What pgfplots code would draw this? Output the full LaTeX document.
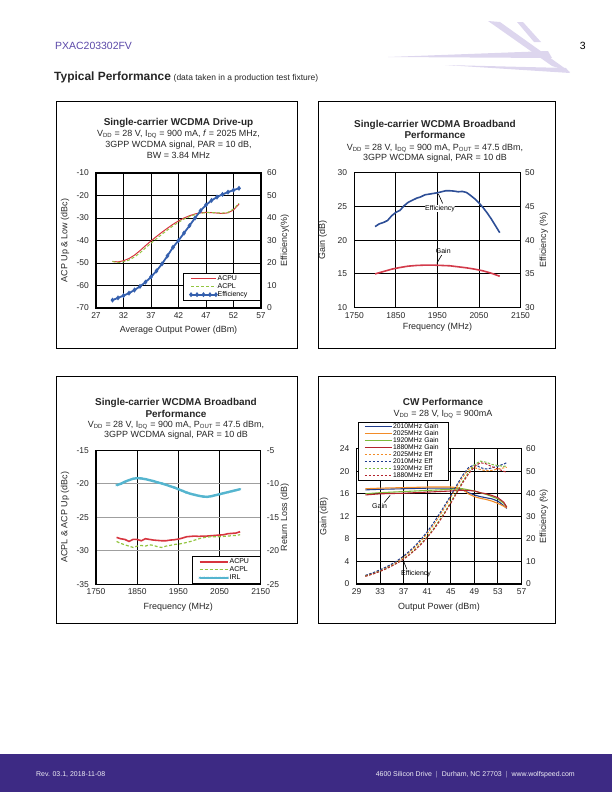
\documentclass[border=0pt]{standalone}
\usepackage{pgfplots}
\pgfplotsset{compat=1.18}
\usepackage{fontspec}
\setmainfont{Liberation Sans}

\definecolor{wspurple}{HTML}{5A48A8}
\definecolor{wsband}{HTML}{3D2A84}
\definecolor{logo}{HTML}{DDD6EE}
\definecolor{cred}{HTML}{D7353F}
\definecolor{cgreen}{HTML}{93C540}
\definecolor{cblue}{HTML}{3560AE}
\definecolor{gnavy}{HTML}{2D4E96}
\definecolor{gred}{HTML}{D33B4B}
\definecolor{irl}{HTML}{55B5CF}
\definecolor{cworange}{HTML}{F28C28}
\definecolor{cwgreen}{HTML}{7DBA3C}
\definecolor{cwred}{HTML}{B3232D}
\definecolor{cwnavy}{HTML}{1F3C8C}

\pgfplotsset{
  panel/.style={
    scale only axis, anchor=south west,
    axis line style={line width=1.2pt, black},
    major tick length=0pt,
    tick style={draw=none},
    ticklabel style={font=\fontsize{8.5}{10}\selectfont, text=black!85, inner sep=0pt},
    label style={font=\fontsize{9}{10}\selectfont, text=black!85},
    /pgf/number format/assume math mode=true,
    /pgf/number format/1000 sep={},
    grid style={black, line width=0.9pt},
  },
  leftax/.style={panel,
    xticklabel style={anchor=center, yshift=-7.5bp},
    yticklabel style={anchor=east, xshift=-7bp}},
  rightax/.style={panel, axis y line*=right, axis x line=none,
    yticklabel style={anchor=west, xshift=#1}},
  rightax/.default=6bp,
  leg/.style={legend cell align=left,
    legend style={font=\fontsize{7}{7}\selectfont, draw=black, line width=0.8pt,
      fill=white, inner ysep=1.5pt, nodes={inner sep=0.8pt, align=left}},
    legend image code/.code={\draw[##1]
      plot coordinates {(0pt,0pt) (6pt,0pt) (12.5pt,0pt) (19pt,0pt) (25pt,0pt)};}},
}

\newcommand{\titleline}[3]{\node[anchor=base, font=\fontsize{10}{12}\selectfont\bfseries, text=black!85] at (#1bp,-#2bp) {#3};}
\newcommand{\subline}[3]{\node[anchor=base, font=\fontsize{9}{11}\selectfont, text=black!85] at (#1bp,-#2bp) {#3};}

\begin{document}
\begin{tikzpicture}
\useasboundingbox (0,0) rectangle (612bp,-792bp);

% header
\fill[logo] (388bp,-57bp) -- (548bp,-51bp) -- (552bp,-58bp) -- cycle;
\fill[logo] (488bp,-21bp) -- (500bp,-22bp) -- (570bp,-72bp) -- (552bp,-66bp) -- cycle;
\fill[logo] (445bp,-65bp) -- (566bp,-68bp) -- (570bp,-73bp) -- cycle;
\fill[logo] (517bp,-22bp) -- (523bp,-22bp) -- (541bp,-42bp) -- (534bp,-42bp) -- cycle;
\node[anchor=base west, text=wspurple, font=\fontsize{10.5}{12}\selectfont, inner sep=0pt] at (55bp,-49bp) {PXAC203302FV};
\node[anchor=base east, font=\fontsize{10.5}{12}\selectfont, inner sep=0pt] at (586bp,-49bp) {3};
\node[anchor=base west, inner sep=0pt, text=black!85] at (54bp,-80bp) {{\fontsize{12}{14}\selectfont\bfseries Typical Performance} {\fontsize{8.5}{10}\selectfont (data taken in a production test fixture)}};

% panel frames
\draw[line width=0.6pt] (56bp,-101bp) rectangle (297bp,-348bp);
\draw[line width=0.6pt] (318bp,-101bp) rectangle (555bp,-348bp);
\draw[line width=0.6pt] (56bp,-376bp) rectangle (297bp,-623bp);
\draw[line width=0.6pt] (318bp,-376bp) rectangle (555bp,-623bp);

% ---------- panel 1 ----------
\titleline{178.5}{125.3}{Single-carrier WCDMA Drive-up}
\subline{178.5}{136.5}{V\textsubscript{DD} = 28 V, I\textsubscript{DQ} = 900 mA, \textit{f} = 2025 MHz,}
\subline{178.5}{147.7}{3GPP WCDMA signal, PAR = 10 dB,}
\subline{178.5}{158.9}{BW = 3.84 MHz}

\begin{axis}[leftax, at={(96bp,-308bp)}, width=165bp, height=135bp,
  xmin=27, xmax=57, ymin=-70, ymax=-10,
  xtick={27,32,...,57}, ytick={-70,-60,...,-10},
  xmajorgrids, ymajorgrids,
  xlabel={Average Output Power (dBm)}, ylabel={ACP Up \& Low (dBc)},
  xlabel style={at={(axis description cs:0.5,-0.163)}, anchor=center},
  ylabel style={at={(axis description cs:-0.188,0.5)}, anchor=center}]
\addplot[cred, line width=1pt] coordinates {
(30,-49.3)(31,-49.5)(32,-49.0)(33,-48.0)(34,-46.5)(35,-44.5)(36,-42.3)(37,-40.2)
(38,-38.2)(39,-36.3)(40,-34.5)(41,-32.8)(42,-31.3)(43,-30.0)(44,-29.0)(45,-28.2)
(46,-27.7)(47,-27.5)(48,-27.6)(49,-27.8)(50,-28.0)(51,-27.7)(52,-26.4)(53,-23.8)};
\addplot[cgreen, line width=1pt, dash pattern=on 3pt off 2pt] coordinates {
(30,-49.3)(31,-49.8)(32,-49.5)(33,-48.7)(34,-47.3)(35,-45.5)(36,-43.3)(37,-41.2)
(38,-39.2)(39,-37.2)(40,-35.3)(41,-33.5)(42,-31.9)(43,-30.5)(44,-29.4)(45,-28.5)
(46,-27.9)(47,-27.6)(48,-27.6)(49,-27.7)(50,-27.8)(51,-27.5)(52,-26.0)(53,-23.5)};
\end{axis}
\begin{axis}[rightax, leg, at={(96bp,-308bp)}, width=165bp, height=135bp,
  xmin=27, xmax=57, ymin=0, ymax=60, ytick={0,10,...,60},
  ylabel={Efficiency(\%)},
  ylabel style={at={(axis description cs:1.145,0.5)}, anchor=center},
  legend style={at={(0.998,0.261)}, anchor=north east, inner xsep=7pt,
    nodes={text width=35pt}}]
\addlegendimage{cred, line width=1pt}
\addlegendentry{ACPU}
\addlegendimage{cgreen, line width=1pt, dash pattern=on 3pt off 2pt}
\addlegendentry{ACPL}
\addplot[cblue, line width=1.8pt, mark=diamond*, mark size=1.1pt] coordinates {
(30,3.5)(31,4.5)(32,5.5)(33,6.6)(34,8.0)(35,9.6)(36,11.5)(37,13.8)(38,16.5)
(39,19.6)(40,23.2)(41,27.0)(42,30.0)(43,33.3)(44,36.6)(45,40.0)(46,43.2)
(47,45.8)(48,47.8)(49,49.3)(50,50.5)(51,51.5)(52,52.4)(53,53.2)};
\addlegendentry{Efficiency}
\end{axis}

% ---------- panel 2 ----------
\titleline{435}{127.5}{Single-carrier WCDMA Broadband}
\titleline{435}{138.8}{Performance}
\subline{435}{150}{V\textsubscript{DD} = 28 V, I\textsubscript{DQ} = 900 mA, P\textsubscript{OUT} = 47.5 dBm,}
\subline{435}{160.8}{3GPP WCDMA signal, PAR = 10 dB}

\begin{axis}[leftax, at={(354.3bp,-307.7bp)}, width=166.2bp, height=135.2bp,
  xmin=1750, xmax=2150, ymin=10, ymax=30,
  xtick={1750,1850,...,2150}, ytick={10,15,...,30},
  xmajorgrids, ymajorgrids,
  xlabel={Frequency (MHz)}, ylabel={Gain (dB)},
  xlabel style={at={(axis description cs:0.5,-0.145)}, anchor=center},
  ylabel style={at={(axis description cs:-0.19,0.5)}, anchor=center}]
\addplot[gred, line width=1.6pt] coordinates {
(1800,15.0)(1820,15.35)(1840,15.7)(1860,15.95)(1880,16.15)(1900,16.25)(1920,16.3)
(1940,16.3)(1960,16.25)(1980,16.2)(2000,16.05)(2020,15.9)(2040,15.7)(2060,15.45)
(2080,15.1)(2100,14.65)};
\end{axis}
\begin{axis}[rightax=4.5bp, at={(354.3bp,-307.7bp)}, width=166.2bp, height=135.2bp,
  xmin=1750, xmax=2150, ymin=30, ymax=50, ytick={30,35,...,50},
  ylabel={Efficiency (\%)},
  ylabel style={at={(axis description cs:1.14,0.5)}, anchor=center}]
\addplot[gnavy, line width=1.6pt] coordinates {
(1800,42.0)(1810,42.4)(1820,42.6)(1830,42.9)(1840,43.6)(1850,44.1)(1860,44.4)
(1870,45.1)(1880,45.6)(1890,45.9)(1900,46.2)(1910,46.4)(1920,46.7)(1930,46.8)
(1940,46.9)(1950,47.0)(1960,47.15)(1970,47.3)(1980,47.3)(1990,47.25)(2000,47.15)
(2010,47.2)(2020,47.05)(2030,46.6)(2040,46.1)(2050,45.5)(2060,44.8)(2070,44.0)
(2080,43.1)(2090,42.1)(2100,41.1)};
\end{axis}
\node[font=\fontsize{7}{8}\selectfont, fill=white, inner sep=0.5pt] at (440bp,-208.3bp) {Efficiency};
\draw[line width=0.6pt] (442.7bp,-203.5bp) -- (438.4bp,-194bp);
\node[font=\fontsize{7}{8}\selectfont, inner sep=0.5pt] at (443.3bp,-250.7bp) {Gain};
\draw[line width=0.6pt] (441.7bp,-255bp) -- (436.8bp,-263.3bp);

% ---------- panel 3 ----------
\titleline{176}{405.6}{Single-carrier WCDMA Broadband}
\titleline{176}{417}{Performance}
\subline{176}{427.3}{V\textsubscript{DD} = 28 V, I\textsubscript{DQ} = 900 mA, P\textsubscript{OUT} = 47.5 dBm,}
\subline{176}{437.6}{3GPP WCDMA signal, PAR = 10 dB}

\begin{axis}[leftax, at={(96bp,-584.3bp)}, width=164.7bp, height=134bp,
  xmin=1750, xmax=2150, ymin=-35, ymax=-15,
  xtick={1750,1850,...,2150}, ytick={-35,-30,...,-15},
  xmajorgrids, ymajorgrids,
  x grid style={black, line width=0.9pt},
  y grid style={gray!75, line width=0.8pt},
  xlabel={Frequency (MHz)}, ylabel={ACPL \& ACP Up (dBc)},
  xlabel style={at={(axis description cs:0.5,-0.172)}, anchor=center},
  ylabel style={at={(axis description cs:-0.188,0.5)}, anchor=center}]
\addplot[cred, line width=1.6pt] coordinates {
(1800,-28.0)(1810,-28.2)(1820,-28.3)(1830,-28.6)(1840,-28.3)(1850,-28.3)(1860,-28.5)
(1870,-28.2)(1880,-28.3)(1890,-28.4)(1900,-28.45)(1910,-28.5)(1920,-28.5)(1930,-28.4)
(1940,-28.35)(1950,-28.25)(1960,-28.1)(1970,-27.9)(1980,-27.85)(1990,-27.8)(2000,-27.85)
(2010,-27.8)(2020,-27.8)(2030,-27.75)(2040,-27.7)(2050,-27.65)(2060,-27.6)(2070,-27.45)
(2080,-27.4)(2090,-27.35)(2100,-27.15)};
\addplot[cgreen, line width=1.2pt, dash pattern=on 3pt off 2pt] coordinates {
(1800,-28.6)(1810,-28.9)(1820,-29.1)(1830,-29.3)(1840,-29.5)(1850,-29.3)(1860,-29.2)
(1870,-29.3)(1880,-29.1)(1890,-29.2)(1900,-29.4)(1910,-29.5)(1920,-29.3)(1930,-29.2)
(1940,-29.05)(1950,-29.0)(1960,-28.9)(1970,-28.75)(1980,-28.6)(1990,-28.4)(2000,-28.2)
(2010,-28.05)(2020,-27.95)(2030,-27.9)(2040,-27.9)(2050,-27.9)(2060,-27.85)(2070,-27.8)
(2080,-27.75)(2090,-27.7)(2100,-27.6)};
\end{axis}
\begin{axis}[rightax, leg, at={(96bp,-584.3bp)}, width=164.7bp, height=134bp,
  xmin=1750, xmax=2150, ymin=-25, ymax=-5, ytick={-25,-20,...,-5},
  ylabel={Return Loss (dB)},
  ylabel style={at={(axis description cs:1.147,0.5)}, anchor=center},
  legend image code/.code={\draw[#1] plot coordinates {(0pt,0pt) (4pt,0pt) (8pt,0pt)
    (12pt,0pt) (16pt,0pt) (20pt,0pt) (24pt,0pt) (28pt,0pt)};},
  legend style={at={(1.0,0.211)}, anchor=north east, inner xsep=6pt,
    nodes={text width=24pt}}]
\addlegendimage{cred, line width=1.6pt}
\addlegendentry{ACPU}
\addlegendimage{cgreen, line width=1.2pt, dash pattern=on 3pt off 2pt}
\addlegendentry{ACPL}
\addplot[irl, line width=2.4pt, mark=x, mark size=1.3pt, mark options={line width=0.6pt}] coordinates {
(1800,-10.2)(1810,-10.0)(1820,-9.7)(1830,-9.45)(1840,-9.25)(1850,-9.15)(1860,-9.2)
(1870,-9.3)(1880,-9.45)(1890,-9.6)(1900,-9.8)(1910,-9.95)(1920,-10.15)(1930,-10.35)
(1940,-10.55)(1950,-10.8)(1960,-11.05)(1970,-11.3)(1980,-11.5)(1990,-11.65)(2000,-11.8)
(2010,-11.9)(2020,-11.95)(2030,-11.85)(2040,-11.7)(2050,-11.55)(2060,-11.4)(2070,-11.25)
(2080,-11.1)(2090,-10.95)(2100,-10.8)};
\addlegendentry{IRL}
\end{axis}

% ---------- panel 4 ----------
\titleline{443}{405.3}{CW Performance}
\subline{443}{416}{V\textsubscript{DD} = 28 V, I\textsubscript{DQ} = 900mA}

\begin{axis}[leftax, at={(356.5bp,-584bp)}, width=165bp, height=135.3bp,
  xmin=29, xmax=57, ymin=0, ymax=24,
  xtick={29,33,...,57}, ytick={0,4,...,24},
  xmajorgrids, ymajorgrids,
  xlabel={Output Power (dBm)}, ylabel={Gain (dB)},
  xlabel style={at={(axis description cs:0.5,-0.172)}, anchor=center},
  ylabel style={at={(axis description cs:-0.196,0.5)}, anchor=center}]
\addplot[cwnavy, line width=1.1pt] coordinates {
(30.5,16.7)(33,16.8)(37,16.9)(41,17.0)(45,17.0)(46,16.9)(47,16.7)(48,16.2)(49,15.8)
(50,15.5)(51,15.3)(52,15.1)(53,14.7)(54,13.9)(54.5,13.4)};
\addplot[cworange, line width=1.1pt] coordinates {
(30.5,16.9)(33,17.0)(37,17.1)(41,17.2)(45,17.2)(46,17.1)(47,16.8)(48,16.0)(49,15.5)
(50,15.2)(51,15.0)(52,14.7)(53,14.3)(54,13.8)(54.5,13.5)};
\addplot[cwgreen, line width=1.1pt] coordinates {
(30.5,16.0)(33,16.2)(37,16.4)(41,16.6)(45,16.8)(46,16.9)(47,16.9)(48,16.7)(49,16.5)
(50,16.2)(51,15.9)(52,15.5)(53,15.1)(54,14.3)(54.5,13.7)};
\addplot[cwred, line width=1.1pt] coordinates {
(30.5,15.8)(33,16.0)(37,16.1)(41,16.3)(45,16.5)(46,16.6)(47,16.6)(48,16.6)(49,16.5)
(50,16.2)(51,16.0)(52,15.7)(53,15.3)(54,14.5)(54.5,13.6)};
\end{axis}
\begin{axis}[rightax=4.5bp, leg, at={(356.5bp,-584bp)}, width=165bp, height=135.3bp,
  xmin=29, xmax=57, ymin=0, ymax=60, ytick={0,10,...,60},
  ylabel={Efficiency (\%)},
  ylabel style={at={(axis description cs:1.135,0.5)}, anchor=center},
  legend image code/.code={\draw[#1] (0pt,0pt) -- (27pt,0pt);},
  legend style={at={(0.012,1.2)}, anchor=north west, font=\fontsize{6.8}{6.8}\selectfont,
    inner xsep=5.5pt, inner ysep=1pt, nodes={inner sep=0.3pt, inner xsep=0.8pt, text width=49pt}}]
\addlegendimage{cwnavy, line width=1.1pt}
\addlegendentry{2010MHz Gain}
\addlegendimage{cworange, line width=1.1pt}
\addlegendentry{2025MHz Gain}
\addlegendimage{cwgreen, line width=1.1pt}
\addlegendentry{1920MHz Gain}
\addlegendimage{cwred, line width=1.1pt}
\addlegendentry{1880MHz Gain}
\addplot[cworange, line width=1pt, dash pattern=on 2.5pt off 1.5pt] coordinates {
(30.5,3.7)(32,5.0)(33,6.1)(34,7.3)(35,8.6)(36,10.1)(37,12.0)(38,14.1)(39,16.5)(40,19.3)
(41,22.4)(42,25.9)(43,29.8)(44,34.0)(45,38.5)(46,43.0)(47,47.3)(48,50.8)(48.5,51.8)
(49,51.6)(50,50.8)(51,50.2)(52,50.4)(53,51.0)(54,51.5)(54.5,51.8)};
\addlegendentry{2025MHz Eff}
\addplot[cwnavy, line width=1pt, dash pattern=on 2.5pt off 1.5pt] coordinates {
(30.5,3.8)(32,5.2)(33,6.3)(34,7.5)(35,8.9)(36,10.5)(37,12.4)(38,14.6)(39,17.1)(40,20.0)
(41,23.2)(42,26.8)(43,30.8)(44,35.0)(45,39.3)(46,43.8)(47,48.2)(48,51.6)(49,52.9)
(49.5,52.5)(50,51.6)(51,51.0)(52,51.5)(53,52.3)(54,53.2)(54.5,53.8)};
\addlegendentry{2010MHz Eff}
\addplot[cwgreen, line width=1pt, dash pattern=on 2.5pt off 1.5pt] coordinates {
(30.5,3.5)(32,4.7)(33,5.7)(34,6.8)(35,8.1)(36,9.5)(37,11.2)(38,13.2)(39,15.5)(40,18.1)
(41,21.0)(42,24.3)(43,28.0)(44,32.0)(45,36.4)(46,41.0)(47,45.4)(48,49.5)(49,52.8)
(50,54.5)(51,54.0)(52,53.0)(53,52.5)(54,52.2)(54.5,52.3)};
\addlegendentry{1920MHz Eff}
\addplot[cwred, line width=1pt, dash pattern=on 2.5pt off 1.5pt] coordinates {
(30.5,3.4)(32,4.6)(33,5.6)(34,6.7)(35,8.0)(36,9.4)(37,11.0)(38,13.0)(39,15.2)(40,17.7)
(41,20.6)(42,23.8)(43,27.5)(44,31.5)(45,35.8)(46,40.3)(47,44.8)(48,48.8)(49,52.0)
(50,53.8)(51,53.3)(52,52.0)(53,51.0)(54,50.0)(54.5,49.5)};
\addlegendentry{1880MHz Eff}
\end{axis}
\node[font=\fontsize{7}{8}\selectfont, inner sep=0.5pt] at (379.6bp,-506.5bp) {Gain};
\draw[line width=0.6pt] (384.3bp,-502.5bp) -- (390.2bp,-495.3bp);
\node[font=\fontsize{7}{8}\selectfont, inner sep=0.5pt] at (416bp,-573.5bp) {Efficiency};
\draw[line width=0.6pt] (406.8bp,-569.3bp) -- (403.4bp,-560.7bp);

% footer
\fill[wsband] (0,-754bp) rectangle (612bp,-792bp);
\node[anchor=west, inner sep=0pt, text=white!92!wsband, font=\fontsize{7}{8}\selectfont] at (36bp,-774.3bp) {Rev. 03.1, 2018-11-08};
\node[anchor=east, inner sep=0pt, text=white!92!wsband, font=\fontsize{7}{8}\selectfont] at (575bp,-774.3bp) {4600 Silicon Drive\hspace{4pt}{\color{white!60!wsband}|}\hspace{4pt}Durham, NC 27703\hspace{4pt}{\color{white!60!wsband}|}\hspace{4pt}www.wolfspeed.com};
\end{tikzpicture}
\end{document}
